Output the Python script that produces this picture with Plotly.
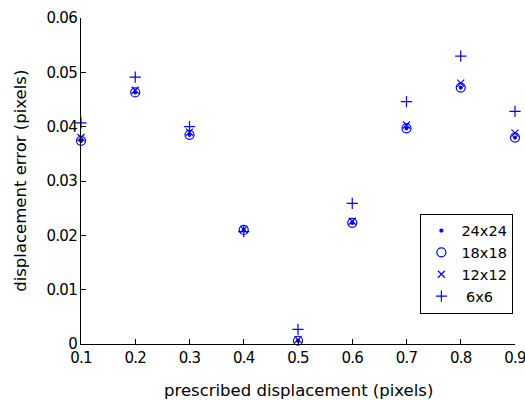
import plotly.graph_objects as go

x_vals = [0.1, 0.2, 0.3, 0.4, 0.5, 0.6, 0.7, 0.8, 0.9]
err_24 = [0.0374, 0.0463, 0.0385, 0.0210, 0.0006, 0.0223, 0.0397, 0.0472, 0.0380]
err_18 = [0.0374, 0.0463, 0.0385, 0.0210, 0.0006, 0.0223, 0.0397, 0.0472, 0.0380]
err_12 = [0.0380, 0.0467, 0.0390, 0.0211, 0.0008, 0.0226, 0.0403, 0.0480, 0.0388]
err_6 = [0.0407, 0.0491, 0.0400, 0.0207, 0.0027, 0.0259, 0.0446, 0.0530, 0.0428]
names = ["24x24", "18x18", "12x12", " 6x6"]

x_ticks = [0.1, 0.2, 0.3, 0.4, 0.5, 0.6, 0.7, 0.8, 0.9]
x_tick_text = ["0.1", "0.2", "0.3", "0.4", "0.5", "0.6", "0.7", "0.8", "0.9"]
y_ticks = [0, 0.01, 0.02, 0.03, 0.04, 0.05, 0.06]
y_tick_text = ["0", "0.01", "0.02", "0.03", "0.04", "0.05", "0.06"]
x_title = "prescribed displacement (pixels)"
y_title = "displacement error (pixels)"


def tight(labels):
    return ["<span style='letter-spacing:-0.7px'>%s</span>" % t for t in labels]


blue = "#0000ff"
fig = go.Figure()
series = [
    (err_24, "circle", 3),
    (err_18, "circle-open", 9),
    (err_12, "x-thin-open", 7),
    (err_6, "cross-thin-open", 8),
]
for (vals, sym, size), name in zip(series, names):
    fig.add_trace(go.Scatter(
        x=x_vals, y=vals, mode="markers", name=name, cliponaxis=False,
        marker=dict(symbol=sym, size=size, color=blue,
                    line=dict(color=blue, width=1.2)),
    ))

font = "DejaVu Sans, sans-serif"
fig.update_layout(
    width=525, height=401,
    margin=dict(l=81, r=10, t=18, b=57, autoexpand=False),
    plot_bgcolor="white", paper_bgcolor="white",
    font=dict(family=font, size=15, color="black"),
    showlegend=True,
    legend=dict(x=0.782, y=0.40, xanchor="left", yanchor="top",
                bordercolor="black", borderwidth=1, bgcolor="white",
                font=dict(size=14.5), itemwidth=30),
    xaxis=dict(range=[0.1, 0.9], tickvals=x_ticks, ticktext=tight(x_tick_text),
               ticks="inside", ticklen=5, tickcolor="black", showgrid=False,
               zeroline=False, showline=True, linecolor="black", linewidth=1,
               automargin=False, ticklabeloverflow="allow",
               tickfont=dict(size=15)),
    yaxis=dict(range=[0, 0.06], tickvals=y_ticks, ticktext=tight(y_tick_text),
               ticks="inside", ticklen=5, tickcolor="black", showgrid=False,
               zeroline=False, showline=True, linecolor="black", linewidth=1,
               automargin=False, ticklabeloverflow="allow",
               tickfont=dict(size=15)),
    annotations=[
        dict(text=x_title, xref="paper", yref="paper", x=0.5, y=-0.142,
             xanchor="center", yanchor="middle", showarrow=False,
             font=dict(size=16.5)),
        dict(text=y_title, xref="paper", yref="paper", x=-0.141, y=0.5,
             xanchor="center", yanchor="middle", showarrow=False,
             textangle=-90, font=dict(size=16.5)),
    ],
)
fig.write_html("out.html", post_script="document.body.style.margin='0px';",
               config={"displayModeBar": False})
